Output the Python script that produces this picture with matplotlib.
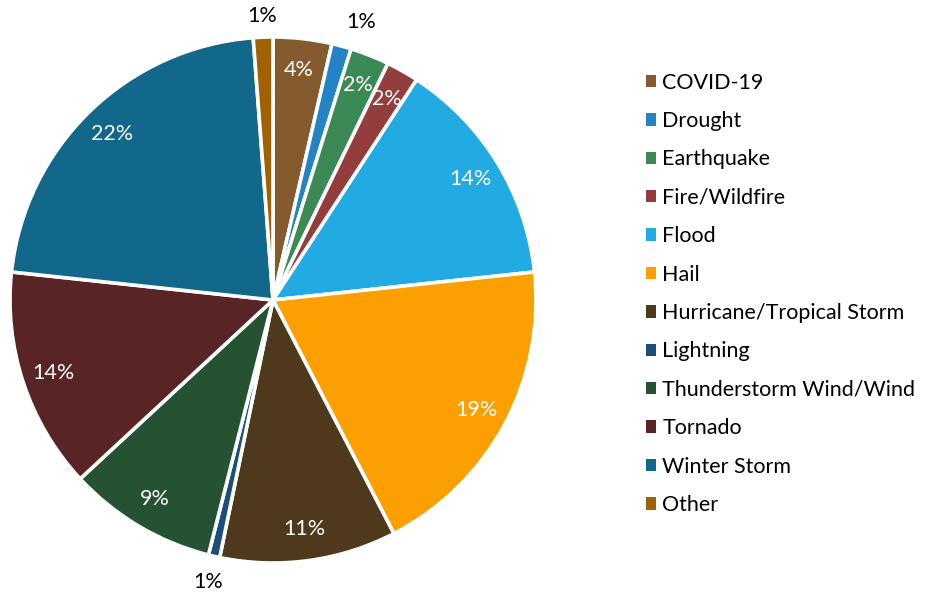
import numpy as np
import matplotlib
matplotlib.use("Agg")
import matplotlib.pyplot as plt
from matplotlib.patches import Patch

plt.rcParams["font.family"] = ["Lato", "DejaVu Sans"]

categories = ["COVID-19", "Drought", "Earthquake", "Fire/Wildfire", "Flood", "Hail",
              "Hurricane/Tropical Storm", "Lightning", "Thunderstorm Wind/Wind",
              "Tornado", "Winter Storm", "Other"]
shares = [3.6, 1.2, 2.4, 2.0, 14.1, 19.1, 10.85, 0.7, 9.15, 13.6, 22.1, 1.2]
colors = ["#845A2E", "#2482C7", "#3B8A55", "#933D3D", "#21ABE2", "#FBA000",
          "#4F391D", "#1B4E7A", "#245233", "#592425", "#12688A", "#9F6102"]
# thin slices get their label outside the pie, with a small angular nudge (deg)
outside = {"Drought": (1.11, -2.5), "Lightning": (1.10, 0.0), "Other": (1.08, 0.0)}

fig = plt.figure(figsize=(9.25, 5.94), dpi=100)
W, H = 925, 594
cx, cy, r = 273, 300, 263
ax = fig.add_axes([(cx - r) / W, (H - cy - r) / H, 2 * r / W, 2 * r / H])

wedges, _ = ax.pie(shares, colors=colors, startangle=90, counterclock=False,
                   radius=1.0, wedgeprops=dict(edgecolor="white", linewidth=2.6))
ax.set_xlim(-1, 1)
ax.set_ylim(-1, 1)
ax.set_aspect("equal")
ax.axis("off")

for w, name, val in zip(wedges, categories, shares):
    mid = (w.theta1 + w.theta2) / 2
    if name in outside:
        d, nudge = outside[name]
        mid += nudge
        col = "black"
    else:
        d, col = 0.88, "white"
    a = np.deg2rad(mid)
    ax.text(d * np.cos(a), d * np.sin(a), f"{val:.0f}%", color=col,
            ha="center", va="center", fontsize=15.5)

handles = [Patch(facecolor=c, edgecolor="none") for c in colors]
fig.legend(handles, categories, loc="upper left", bbox_to_anchor=(637 / W, 1 - 64 / H),
           frameon=False, fontsize=15.5, handlelength=0.5, handleheight=0.5,
           handletextpad=0.27, labelspacing=0.855, borderaxespad=0)

fig.savefig("out.png", dpi=100)
